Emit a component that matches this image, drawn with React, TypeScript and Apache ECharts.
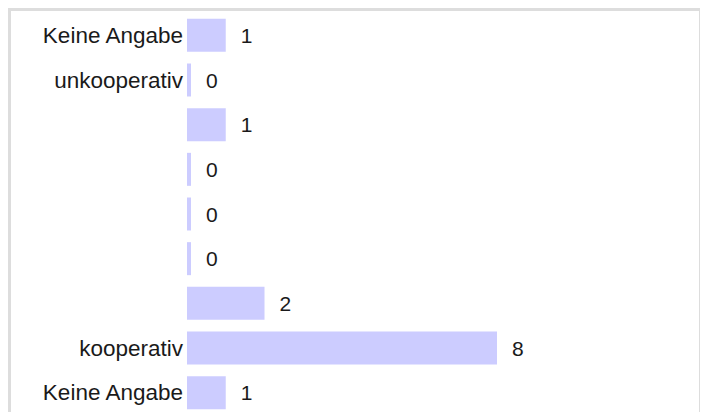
import React, { useEffect, useRef } from "react";
import * as echarts from "echarts";

const categories = [
  "Keine Angabe",
  "unkooperativ",
  "",
  "",
  "",
  "",
  "",
  "kooperativ",
  "Keine Angabe",
];
const values = [1, 0, 1, 0, 0, 0, 2, 8, 1];

const FONT = "'Liberation Sans', Arial, Helvetica, sans-serif";

export default function App() {
  const ref = useRef<HTMLDivElement>(null);
  useEffect(() => {
    if (!ref.current) return;
    const chart = echarts.init(ref.current, null, { renderer: "svg" });
    chart.setOption({
      animation: false,
      grid: { left: 176, top: 2, width: 310, height: 402, containLabel: false },
      xAxis: {
        type: "value",
        min: 0,
        max: 8,
        show: false,
      },
      yAxis: {
        type: "category",
        inverse: true,
        data: categories,
        axisLine: { show: false },
        axisTick: { show: false },
        splitLine: { show: false },
        axisLabel: {
          color: "#1a1a1a",
          fontSize: 22.5,
          fontFamily: FONT,
          margin: 4,
          padding: [3, 0, 0, 0],
        },
      },
      series: [
        {
          type: "bar",
          data: values,
          barWidth: 33,
          barMinHeight: 4,
          itemStyle: { color: "#ccccff" },
          label: {
            show: true,
            position: "right",
            distance: 15,
            color: "#1a1a1a",
            fontSize: 21,
            fontFamily: FONT,
            padding: [4, 0, 0, 0],
          },
        },
      ],
    });
    return () => chart.dispose();
  }, []);
  return (
    <div style={{ border: "3px solid #dddddd", width: 688, height: 420 }}>
      <div ref={ref} style={{ width: 688, height: 420 }} />
    </div>
  );
}
